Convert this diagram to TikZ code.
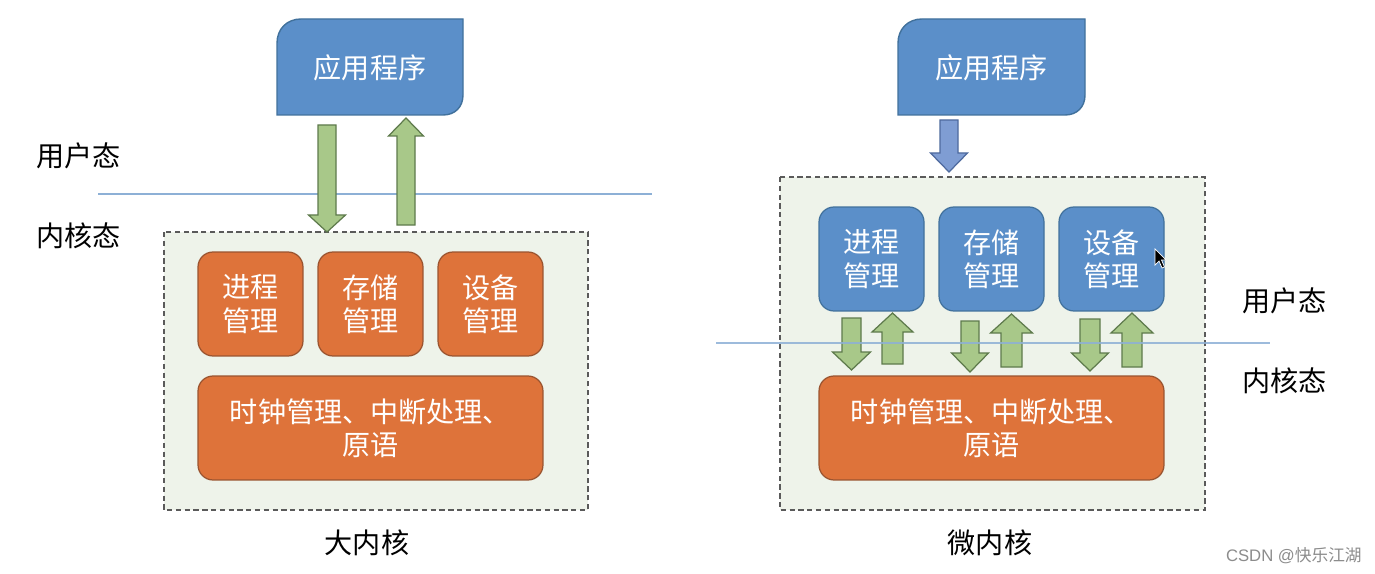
\documentclass[tikz,border=0pt]{standalone}
\usepackage{fontspec}
\setmainfont{Noto Sans CJK SC}
\newfontfamily\latinfont{Liberation Sans}
\definecolor{appblue}{HTML}{5B8FC9}
\definecolor{blueedge}{HTML}{41719C}
\definecolor{orangef}{HTML}{DE733A}
\definecolor{orangeedge}{HTML}{9A5430}
\definecolor{greenf}{HTML}{A8C889}
\definecolor{greenedge}{HTML}{5E7A4C}
\definecolor{smallblue}{HTML}{7F9DD3}
\definecolor{smallblueedge}{HTML}{4E6A9E}
\definecolor{panel}{HTML}{EEF3EA}
\definecolor{paneledge}{HTML}{5A5A5A}
\definecolor{sepline}{HTML}{8DB0D6}
\newcommand{\blkarrow}[7]{%
  \filldraw[#1] (#2-#6,#3) -- (#2+#6,#3) -- (#2+#6,#4) -- (#2+#7,#4) -- (#2,#5) -- (#2-#7,#4) -- (#2-#6,#4) -- cycle;}
\newcommand{\appshape}[4]{% x1 y1 x2 y2
  \filldraw[fill=appblue, draw=blueedge, line width=0.8pt]
    (#1,#4) -- (#1,#2+24) .. controls (#1,#2+10) and (#1+10,#2) .. (#1+24,#2) -- (#3,#2) -- (#3,#4-20) .. controls (#3,#4-8) and (#3-8,#4) .. (#3-20,#4) -- cycle;}
\begin{document}
\begin{tikzpicture}[x=0.02cm,y=-0.02cm,
  every node/.style={font=\fontsize{16}{19}\selectfont, inner sep=0pt},
  omod/.style={draw=orangeedge, fill=orangef, line width=0.7pt, rounded corners=0.3cm,
    minimum width=2.1cm, minimum height=2.08cm, text=white, align=center},
  bmod/.style={draw=blueedge, fill=appblue, line width=0.7pt, rounded corners=0.3cm,
    minimum width=2.1cm, minimum height=2.08cm, text=white, align=center},
  clockbox/.style={draw=orangeedge, fill=orangef, line width=0.7pt, rounded corners=0.3cm,
    minimum width=6.9cm, minimum height=2.08cm, text=white, align=center},
  paneldash/.style={draw=paneledge, fill=panel, line width=0.7pt, dash pattern=on 3pt off 2pt},
  garrow/.style={fill=greenf, draw=greenedge, line width=0.7pt},
  barrow/.style={fill=smallblue, draw=smallblueedge, line width=0.7pt},
  sep/.style={draw=sepline, line width=0.8pt},
  lbl/.style={text=black},
  apptext/.style={text=white}]
\useasboundingbox[fill=white] (0,0) rectangle (1375,574);

% ---------- left: big kernel ----------
\appshape{277}{19}{463}{115}
\node[apptext] (app1) at (370,68) {应用程序};
\node[lbl, anchor=west] (u1) at (36,156) {用户态};
\node[lbl, anchor=west] (k1) at (36,236) {内核态};
\filldraw[paneldash] (164,232) rectangle (588,510);
\coordinate (l1a) at (98,194);
\coordinate (l1b) at (652,194);
\draw[sep] (l1a) -- (l1b);
\blkarrow{garrow}{327}{125}{215}{232}{9}{18.5}
\blkarrow{garrow}{406}{225}{136}{118}{9}{17.5}
\node[omod] (p1) at (250.5,304) {进程\\管理};
\node[omod] (m1) at (370.5,304) {存储\\管理};
\node[omod] (d1) at (490.5,304) {设备\\管理};
\node[clockbox] (c1) at (370.5,428) {时钟管理、中断处理、\\原语};
\node[lbl] (t1) at (367,543) {大内核};

% ---------- right: micro kernel ----------
\appshape{898}{19}{1085}{115}
\node[apptext] (app2) at (991.5,68) {应用程序};
\filldraw[paneldash] (780,177) rectangle (1205,510);
\blkarrow{barrow}{949}{120}{153}{172}{9}{18.5}
\node[bmod] (p2) at (871.5,259) {进程\\管理};
\node[bmod] (m2) at (991.5,259) {存储\\管理};
\node[bmod] (d2) at (1111.5,259) {设备\\管理};
\node[clockbox] (c2) at (991.5,428) {时钟管理、中断处理、\\原语};
\blkarrow{garrow}{851.5}{318}{352}{370}{9.5}{19}
\blkarrow{garrow}{892.5}{364}{332}{313}{10.5}{20.5}
\blkarrow{garrow}{970}{321}{353}{372}{9}{18.5}
\blkarrow{garrow}{1011.5}{367}{333}{314}{10.5}{21}
\blkarrow{garrow}{1090}{319}{353}{371}{10}{18.5}
\blkarrow{garrow}{1132}{367}{333}{313}{10}{21}
\coordinate (l2a) at (716,343);
\coordinate (l2b) at (1270,343);
\draw[sep, opacity=0.85] (l2a) -- (l2b);
\node[lbl, anchor=west] (u2) at (1242,301) {用户态};
\node[lbl, anchor=west] (k2) at (1242,381) {内核态};
\node[lbl] (t2) at (990,543) {微内核};

% cursor
\filldraw[fill=black, draw=white, line width=0.4pt]
  (1155,249) -- (1155,265) -- (1159,261) -- (1162,268) -- (1164.5,267) -- (1161.5,260) -- (1166,260) -- cycle;

% watermark
\node[text=black!45, font=\fontsize{9.5}{11}\selectfont, anchor=east] (wm) at (1362,556) {{\latinfont CSDN @}快乐江湖};
\end{tikzpicture}
\end{document}
